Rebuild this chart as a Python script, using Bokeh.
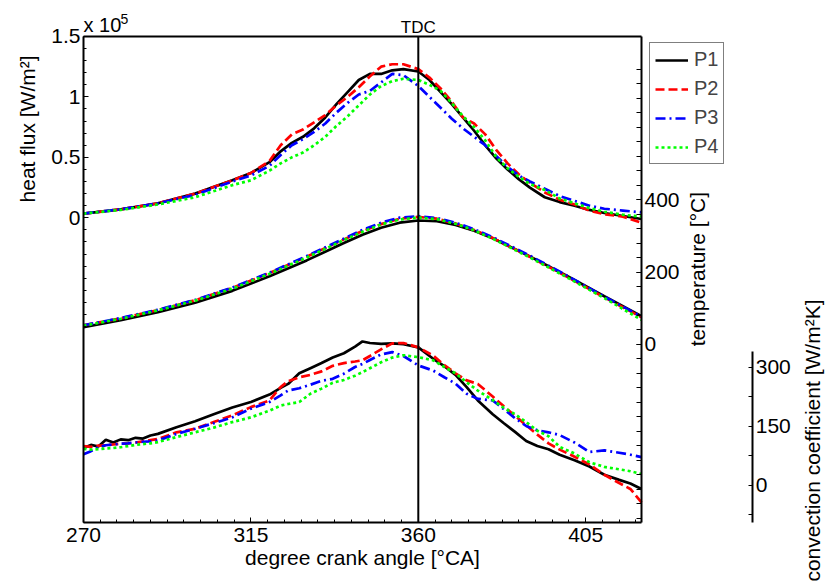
from bokeh.plotting import figure
from bokeh.models import (Range1d, LinearAxis, FixedTicker, Label, Legend,
                          LegendItem, CustomJSTickFormatter)
from bokeh.embed import file_html
from bokeh.resources import INLINE

FONT = "Liberation Sans"

# ---------------- data ----------------
SERIES = ["P1", "P2", "P3", "P4"]
COLORS = ["black", "#ff0000", "#0000ff", "#00ff00"]
DASHES = ["solid", "9 4", "10 4 2 4", "3 3"]

# heat flux [x 1e5 W/m^2]
HF_DEG = [270, 280, 290, 300, 310, 315, 320, 323, 326, 329, 332, 335, 338, 341, 344, 347, 350,
          353, 356, 360, 363, 366, 369, 372, 375, 378, 381, 384, 387, 390, 394, 398, 402, 406,
          410, 415, 420]
HF_P1 = [0.035, 0.07, 0.12, 0.2, 0.31, 0.37, 0.46, 0.55, 0.62, 0.67, 0.74, 0.83, 0.94, 1.04, 1.14,
         1.19, 1.19, 1.22, 1.23, 1.21, 1.14, 1.04, 0.94, 0.83, 0.72, 0.6, 0.49, 0.4, 0.32, 0.25,
         0.17, 0.13, 0.1, 0.065, 0.04, 0.015, -0.01]
HF_P2 = [0.035, 0.07, 0.12, 0.2, 0.31, 0.37, 0.47, 0.6, 0.69, 0.73, 0.79, 0.85, 0.93, 1.0, 1.08,
         1.17, 1.25, 1.27, 1.27, 1.23, 1.16, 1.07, 0.96, 0.83, 0.78, 0.69, 0.56, 0.45, 0.36, 0.29,
         0.21, 0.15, 0.11, 0.06, 0.03, 0.01, -0.04]
HF_P3 = [0.035, 0.07, 0.12, 0.19, 0.3, 0.35, 0.43, 0.52, 0.6, 0.65, 0.71, 0.78, 0.87, 0.95, 1.02,
         1.05, 1.12, 1.19, 1.18, 1.09, 1.0, 0.91, 0.82, 0.74, 0.67, 0.6, 0.51, 0.42, 0.35, 0.3,
         0.24, 0.18, 0.14, 0.1, 0.075, 0.06, 0.045]
HF_P4 = [0.035, 0.065, 0.11, 0.17, 0.27, 0.31, 0.39, 0.45, 0.5, 0.54, 0.6, 0.67, 0.76, 0.84, 0.93,
         1.02, 1.09, 1.13, 1.15, 1.14, 1.1, 1.05, 0.95, 0.84, 0.75, 0.64, 0.5, 0.41, 0.34, 0.28,
         0.23, 0.16, 0.12, 0.08, 0.05, 0.025, 0.01]

# temperature [degC]
T_DEG = [270, 280, 290, 300, 310, 320, 330, 340, 345, 350, 355, 360, 365, 370, 375, 380, 390,
         400, 410, 420]
T_P1 = [48, 67, 89, 115, 148, 188, 232, 280, 303, 322, 336, 342, 340, 330, 314, 293, 243, 189, 133, 78]
T_P2 = [53, 72, 95, 122, 156, 197, 242, 290, 313, 332, 347, 352, 347, 334, 316, 294, 242, 187, 130, 75]
T_P3 = [53, 73, 96, 123, 157, 198, 244, 292, 316, 336, 350, 354, 349, 336, 318, 296, 245, 190, 132, 77]
T_P4 = [52, 71, 94, 121, 154, 195, 240, 288, 311, 331, 345, 350, 346, 333, 315, 292, 240, 185, 128, 68]

# convection coefficient [W/m^2K]
C_DEG = [270, 272, 274, 276, 278, 280, 282, 284, 286, 288, 290, 295, 300, 305, 310, 315, 320, 323,
         325, 328, 331, 334, 337, 340, 343, 345, 347, 350, 353, 356, 360, 364, 367, 370, 373, 376,
         380, 383, 386, 389, 392, 395, 398, 402, 406, 410, 414, 417, 420]
C_P1 = [94, 102, 98, 115, 108, 116, 114, 120, 118, 126, 130, 147, 162, 180, 197, 211, 230, 247,
        257, 284, 297, 310, 324, 335, 352, 365, 361, 359, 360, 358, 350, 321, 302, 280, 249, 215,
        180, 157, 135, 112, 99, 91, 77, 63, 47, 26, 13, 4, -10]
C_P2 = [99, 97, 100, 101, 103, 105, 106, 108, 111, 114, 117, 134, 143, 160, 177, 198, 215, 249,
        264, 274, 280, 289, 303, 310, 314, 317, 328, 345, 360, 361, 350, 329, 305, 284, 266, 257,
        225, 200, 176, 152, 128, 106, 90, 72, 52, 26, 5, -10, -44]
C_P3 = [78, 86, 96, 101, 103, 105, 106, 108, 110, 111, 113, 130, 143, 157, 172, 194, 211, 228,
        240, 246, 255, 265, 270, 283, 300, 308, 318, 332, 338, 328, 304, 291, 274, 258, 232, 219,
        215, 193, 170, 150, 139, 134, 127, 108, 84, 88, 82, 77, 71]
C_P4 = [92, 90, 91, 93, 94, 96, 99, 102, 104, 106, 109, 122, 134, 146, 160, 172, 189, 202, 206,
        211, 232, 245, 260, 267, 278, 287, 297, 312, 324, 330, 325, 317, 300, 284, 261, 240, 216,
        196, 180, 160, 138, 124, 97, 80, 58, 46, 40, 35, 28]

HF = [HF_P1, HF_P2, HF_P3, HF_P4]
TEMP = [T_P1, T_P2, T_P3, T_P4]
CONV = [C_P1, C_P2, C_P3, C_P4]

X_TICKS = [270, 315, 360, 405]
X_MINOR = [270 + 4.5 * i for i in range(34)]
HF_TICKS = [0, 0.5, 1, 1.5]
HF_MINOR = [round(-0.9 + 0.1 * i, 2) for i in range(25)]
T_TICKS = [0, 200, 400]
T_MINOR = list(range(-480, 761, 40))
C_TICKS = [0, 150, 300]
C_MINOR = [-75, 75, 225]
TDC = 360

# plot box extents in each scale
X_BOX = (270, 420)
HF_BOX = (-2.52, 1.5)
T_BOX = (-491, 850)
C_AXIS = (-95, 340)
CONV_AXIS_AT = 449.9              # crank-angle position of the detached convection axis
HF_LABEL_AT = 0.735
XLABEL_AT = 345
T_LABEL_AT = 208
C_LABEL_AT = 113

# ---------------- figure (frame = whole canvas, all axes pinned) ----------------
p = figure(width=833, height=586, output_backend="svg", toolbar_location=None,
           x_range=Range1d(247.688, 471.613), y_range=Range1d(-3.0496, 1.7974),
           x_axis_location=None, y_axis_location=None,
           min_border_left=0, min_border_right=0, min_border_top=0, min_border_bottom=0)
p.extra_y_ranges = {"temp": Range1d(-667.59, 948.97), "conv": Range1d(-258.07, 1231.9)}
p.title.visible = False
p.xgrid.visible = False
p.ygrid.visible = False
p.grid.grid_line_color = None
p.outline_line_color = None
p.background_fill_color = "white"
p.border_fill_color = "white"

def style(ax, tick_in=5, minor_in=3, fs="21px"):
    ax.axis_line_color = "black"
    ax.axis_line_width = 2
    ax.major_tick_in = tick_in
    ax.major_tick_out = 0
    ax.minor_tick_in = minor_in
    ax.minor_tick_out = 0
    ax.major_tick_line_color = "black"
    ax.minor_tick_line_color = "black"
    ax.major_tick_line_width = 1
    ax.minor_tick_line_width = 1
    ax.major_label_text_font = FONT
    ax.major_label_text_font_size = fs
    ax.major_label_text_color = "black"

# bottom edge
xa = LinearAxis(fixed_location=HF_BOX[0], bounds=X_BOX,
                ticker=FixedTicker(ticks=X_TICKS, minor_ticks=X_MINOR))
style(xa)
xa.major_label_standoff = 6
p.add_layout(xa, "below")

# top edge
xt = LinearAxis(fixed_location=HF_BOX[1], bounds=X_BOX, ticker=FixedTicker(ticks=[]))
style(xt, tick_in=0, minor_in=0)
p.add_layout(xt, "above")

# left heat-flux axis
ya = LinearAxis(fixed_location=X_BOX[0], bounds=HF_BOX,
                ticker=FixedTicker(ticks=HF_TICKS, minor_ticks=HF_MINOR),
                formatter=CustomJSTickFormatter(code="return String(tick);"))
style(ya)
ya.major_label_standoff = 3
p.add_layout(ya, "left")

# right temperature axis = right edge of the box
ta = LinearAxis(y_range_name="temp", fixed_location=X_BOX[1], bounds=T_BOX,
                ticker=FixedTicker(ticks=T_TICKS, minor_ticks=T_MINOR))
style(ta, tick_in=5, minor_in=5)
ta.major_label_standoff = 3
p.add_layout(ta, "right")

# detached convection coefficient axis
ca = LinearAxis(y_range_name="conv", fixed_location=CONV_AXIS_AT, bounds=C_AXIS,
                ticker=FixedTicker(ticks=C_TICKS, minor_ticks=C_MINOR))
style(ca, tick_in=4, minor_in=4)
ca.major_label_standoff = 3
p.add_layout(ca, "right")

# ---------------- lines ----------------
hf_renderers = []
for i in range(4):
    kw = dict(line_color=COLORS[i], line_dash=DASHES[i], line_width=2.7)
    r = p.line(HF_DEG, HF[i], **kw)
    hf_renderers.append(r)
    p.line(T_DEG, TEMP[i], y_range_name="temp", **kw)
    p.line(C_DEG, CONV[i], y_range_name="conv", **kw)

# TDC marker line across the box
p.segment(x0=[TDC], y0=[HF_BOX[0]], x1=[TDC], y1=[HF_BOX[1]], line_color="black", line_width=2)

# ---------------- texts ----------------
def txt(**kw):
    base = dict(text_font=FONT, text_color="black", text_baseline="middle")
    base.update(kw)
    p.add_layout(Label(**base))

txt(x=TDC, y=HF_BOX[1], text="TDC", text_align="center", y_offset=9, text_font_size="17px")
txt(x=X_BOX[0], y=HF_BOX[1], text="x 10", text_align="left", y_offset=11, text_font_size="20px")
txt(x=X_BOX[0], y=HF_BOX[1], text="5", text_align="left", x_offset=37, y_offset=17,
    text_font_size="14px")
txt(x=X_BOX[0], y=HF_LABEL_AT, text="heat flux [W/m²]", text_align="center",
    x_offset=-56, angle=90, angle_units="deg", text_font_size="21px")
txt(x=XLABEL_AT, y=HF_BOX[0], text="degree crank angle [°CA]", text_align="center",
    y_offset=-35.5, text_font_size="21px")
txt(x=X_BOX[1], y=T_LABEL_AT, y_range_name="temp", text="temperature [°C]",
    text_align="center", x_offset=56, angle=90, angle_units="deg", text_font_size="21px")
txt(x=X_BOX[1], y=C_LABEL_AT, y_range_name="conv", text="convection coefficient [W/m²K]",
    text_align="center", x_offset=171, angle=90, angle_units="deg", text_font_size="21px")

legend = Legend(items=[LegendItem(label=s, renderers=[r]) for s, r in zip(SERIES, hf_renderers)],
                location=(649, 422), label_text_font=FONT, label_text_font_size="20px",
                glyph_width=33, glyph_height=22, label_height=22, label_standoff=6,
                spacing=6, padding=5, margin=0, border_line_color="black",
                border_line_width=1, background_fill_color="white", background_fill_alpha=1)
p.add_layout(legend)

open("out.html", "w").write(file_html(p, INLINE))
